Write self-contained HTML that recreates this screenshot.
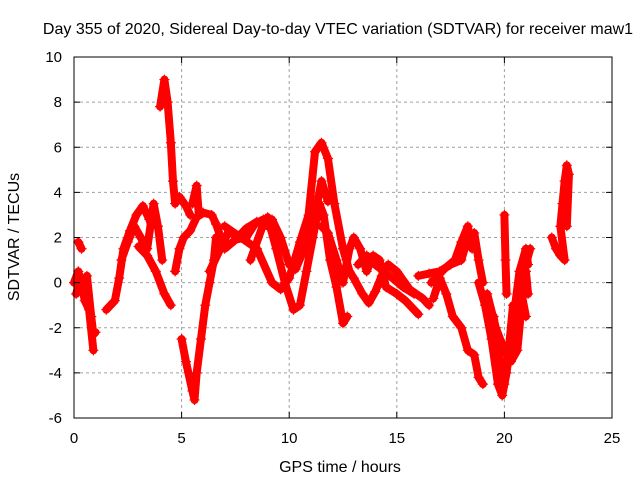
<!DOCTYPE html>
<html><head><meta charset="utf-8"><style>
body{margin:0;background:#fff}
svg{font-family:"Liberation Sans",sans-serif;font-size:15px}
</style></head><body>
<svg id="c" width="640" height="480">
<rect width="640" height="480" fill="#fff"/>
<text x="338" y="34" text-anchor="middle" font-size="16">Day 355 of 2020, Sidereal Day-to-day VTEC variation (SDTVAR) for receiver maw1</text>
<text x="340" y="472" text-anchor="middle" font-size="16">GPS time / hours</text>
<text transform="translate(19,237) rotate(-90)" text-anchor="middle" font-size="16">SDTVAR / TECUs</text>
<g id="grid"></g><g id="data"></g><g id="axes"></g>
</svg>
<script>
const xTicks=[0,5,10,15,20,25];
const yTicks=[-6,-4,-2,0,2,4,6,8,10];
const trackA=[[0,0],[0.2,0.5],[0.4,-0.3],[0.6,0.3],[0.8,-1.5],[0.9,-2.3],[1.0,-2.2]];
const trackA2=[[0.1,-0.5],[0.3,0.2],[0.5,-0.8],[0.7,-1.2],[0.9,-3.0]];
const trackB=[[0.2,1.8],[0.35,1.5]];
const trackC=[[1.5,-1.2],[1.9,-0.8],[2.1,0.2],[2.3,1.5],[2.6,2.3],[2.9,3.0],[3.2,3.4],[3.5,2.8],[3.6,2.5]];
const trackC2=[[2.2,1.0],[2.5,1.8],[2.8,2.5],[3.1,2.0],[3.4,1.5],[3.7,3.5],[3.9,2.5],[4.1,1.0]];
const trackD=[[3.0,1.6],[3.4,1.2],[3.8,0.5],[4.2,-0.5],[4.5,-1.0]];
const trackE=[[4.0,7.8],[4.2,9.0],[4.35,8.0],[4.5,6.2],[4.6,4.5],[4.7,3.5],[4.9,3.8],[5.2,3.4],[5.4,3.0]];
const trackF=[[4.7,0.5],[4.9,1.5],[5.1,2.0],[5.4,2.3],[5.7,2.9],[6.0,3.1],[6.4,3.0],[6.6,2.6]];
const trackG=[[5.0,-2.5],[5.2,-3.5],[5.5,-4.8],[5.6,-5.2],[5.7,-4.0],[5.9,-2.5],[6.1,-1.0],[6.3,0],[6.5,1.0],[6.6,2.0]];
const trackH=[[5.5,3.5],[5.7,4.3],[5.8,3.0]];
const trackH2=[[6.3,0.5],[6.8,1.5],[7.2,2.3],[7.6,2.0],[8.0,2.4],[8.5,2.7],[9.0,2.5]];
const trackI=[[6.6,2.6],[7.0,1.5],[7.5,1.9],[8,2.0],[8.4,2.6],[8.8,2.8],[9.2,2.8],[9.6,2.0],[10,0.8],[10.3,0.6],[10.7,1.5],[11,2.5],[11.3,3.5],[11.5,4.5],[11.8,3.6]];
const trackJ=[[8.2,1.0],[8.8,2.6],[9.0,2.9],[9.4,1.5],[9.8,0],[10.2,-1.2],[10.5,-1.0],[10.8,0.5],[11.1,2.0],[11.4,3.5],[11.6,3.0],[11.9,1.0],[12.2,-0.2],[12.5,-1.8],[12.7,-1.5]];
const trackK=[[7,2.5],[8.5,1.5],[9.2,0],[9.6,-0.3],[10.0,0.2],[10.5,1.8],[10.9,3.0],[11.2,5.8],[11.5,6.2],[11.8,5.5],[12.1,3.5],[12.5,1.5],[12.8,0.5],[13,0.2],[13.4,-0.5],[13.7,-0.9],[14,-0.4],[14.3,0.3],[14.6,0.8],[15,0.5],[15.6,-0.3],[16.2,-0.7],[16.5,-1.0]];
const trackL=[[11.5,2.5],[11.8,2.2],[12.2,1.0],[12.5,0],[12.8,1.5],[13,2.0],[13.3,1.5],[13.6,0.5],[13.9,1.2],[14.2,1.0],[14.5,-0.2],[15,-0.5],[15.4,-0.8],[16,-1.4]];
const trackL2=[[13.2,0.8],[13.6,1.2],[14.0,0.8],[14.4,0.5],[14.8,0.2],[15.3,-0.2],[15.8,-0.5]];
const trackM=[[16,0.3],[16.5,0.4],[17,0.5],[17.5,0.8],[18,1.0],[18.3,2.0],[18.6,2.2],[18.8,1.0],[19,0]];
const trackM2=[[16.6,0.0],[17.2,0.6],[17.7,1.0],[18.0,1.8],[18.3,2.5],[18.5,1.5]];
const trackN=[[16.7,-0.7],[17.0,0.2],[17.3,-0.5],[17.6,-1.5],[18.0,-2.0],[18.3,-3.0],[18.6,-3.2],[18.8,-4.2],[19,-4.5]];
const trackO=[[18.8,0],[19.1,-1.0],[19.4,-2.5],[19.7,-4.5],[19.9,-5.0],[20.1,-4.0],[20.3,-2.5],[20.6,-1.5],[20.9,0.5],[21.2,1.5]];
const trackO2=[[19.5,-1.5],[19.8,-3.5],[20.0,-4.5],[20.2,-3.0],[20.4,-1.0],[20.6,-2.5],[20.8,-0.5],[21.0,-1.5]];
const trackP=[[19.2,-0.5],[19.6,-2],[20,-3],[20.3,-3.5],[20.6,-3],[20.8,-1],[21,0.5],[21.1,-0.5]];
const trackQ=[[20.0,3.0],[20.05,1.0],[20.1,-0.5]];
const trackR=[[20.5,-1],[20.7,0.5],[21.0,1.5],[21.1,0.8]];
const trackS=[[22.2,2.0],[22.4,1.5],[22.6,1.2],[22.8,1.0],[22.6,2.5],[22.7,3.5],[22.8,4.5],[22.9,5.2],[23.0,4.8],[22.9,2.5]];
const tracks=[trackA,trackA2,trackB,trackC,trackC2,trackD,trackE,trackF,trackG,trackH,trackH2,trackI,trackJ,trackK,trackL,trackL2,trackM,trackM2,trackN,trackO,trackO2,trackP,trackQ,trackR,trackS];
const X0=74,X1=612,Y0=418,Y1=57;
const sx=v=>X0+(v-0)/(25-0)*(X1-X0);
const sy=v=>Y0-(v+6)/(16)*(Y0-Y1);
const NS='http://www.w3.org/2000/svg';
function mk(t,a,p){const e=document.createElementNS(NS,t);for(const k in a)e.setAttribute(k,a[k]);p.appendChild(e);return e;}
const grid=document.getElementById('grid'),axes=document.getElementById('axes'),data=document.getElementById('data');
xTicks.forEach(t=>{
  const x=sx(t);
  if(t>0&&t<25){const g=mk('line',{x1:x,x2:x,y1:Y1,y2:Y0,stroke:'#a0a0a0','stroke-dasharray':'3,3'},grid);
  
  }
  mk('line',{x1:x,x2:x,y1:Y0,y2:Y0-6,stroke:'#000'},axes);
  mk('line',{x1:x,x2:x,y1:Y1,y2:Y1+6,stroke:'#000'},axes);
  const l=mk('text',{x:x,y:443,'text-anchor':'middle'},axes);l.textContent=t;
  
  
});
yTicks.forEach(t=>{
  const y=sy(t);
  if(t>-6&&t<10){const g=mk('line',{x1:X0,x2:X1,y1:y,y2:y,stroke:'#a0a0a0','stroke-dasharray':'3,3'},grid);
  
  }
  mk('line',{x1:X0,x2:X0+6,y1:y,y2:y,stroke:'#000'},axes);
  mk('line',{x1:X1,x2:X1-6,y1:y,y2:y,stroke:'#000'},axes);
  const l=mk('text',{x:62,y:y+5,'text-anchor':'end'},axes);l.textContent=t;
  
  
});
const fr=mk('rect',{x:X0,y:Y1,width:X1-X0,height:Y0-Y1,fill:'none',stroke:'#000'},axes);


tracks.forEach(tr=>{
  const p=mk('polyline',{points:tr.map(d=>sx(d[0])+','+sy(d[1])).join(' '),fill:'none',stroke:'#f00','stroke-width':8,'stroke-linejoin':'round','stroke-linecap':'round'},data);
  
  
  tr.forEach(d=>{
    const m=mk('path',{d:`M${sx(d[0])-5},${sy(d[1])}h10M${sx(d[0])},${sy(d[1])-5}v10`,stroke:'#f00','stroke-width':1.2},data);
    
    
  });
});
</script>
</body></html>
